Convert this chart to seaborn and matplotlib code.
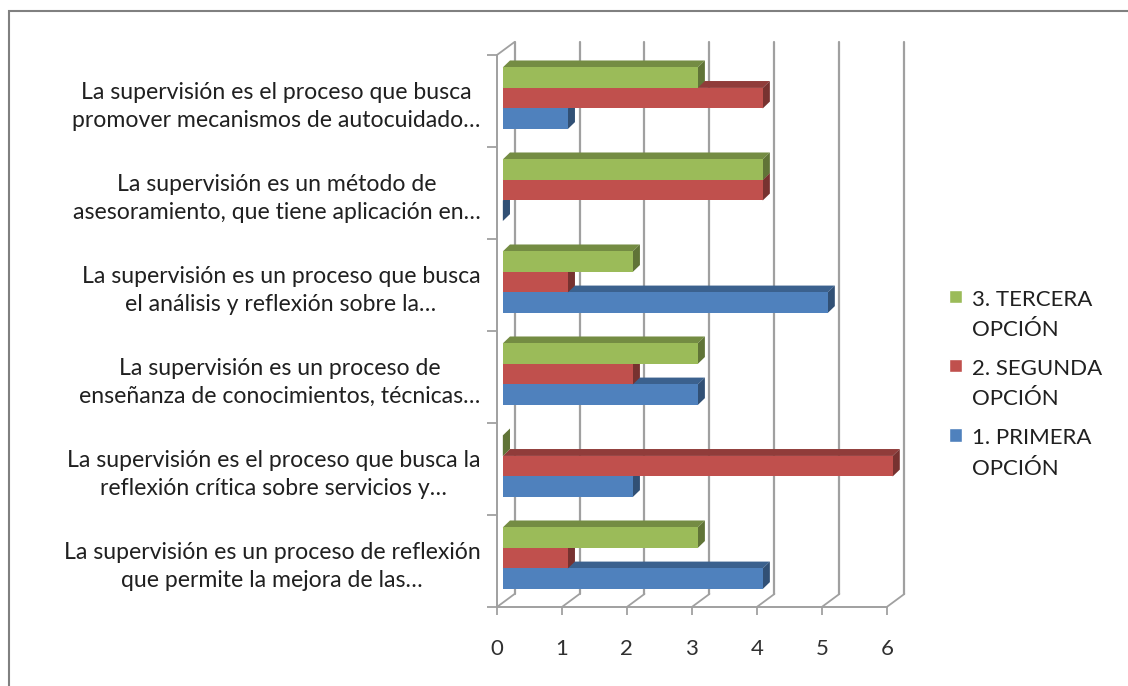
import numpy as np
import pandas as pd
import matplotlib
matplotlib.use('Agg')
import matplotlib.pyplot as plt
import seaborn as sns
from matplotlib.patches import Polygon, Rectangle
import matplotlib.colors as mcolors

preguntas = [
    "La supervisión es el proceso que busca\npromover mecanismos de autocuidado…",
    "La supervisión es un método de\nasesoramiento, que tiene aplicación en…",
    "La supervisión es un proceso que busca\nel análisis y reflexión sobre la…",
    "La supervisión es un proceso de\nenseñanza de conocimientos, técnicas…",
    "La supervisión es el proceso que busca la\nreflexión crítica sobre servicios y…",
    "La supervisión es un proceso de reflexión\nque permite la mejora de las…",
]
tercera = [3, 4, 2, 3, 0, 3]
segunda = [4, 4, 1, 2, 6, 1]
primera = [1, 0, 5, 3, 2, 4]
opciones = ["3. TERCERA\nOPCIÓN", "2. SEGUNDA\nOPCIÓN", "1. PRIMERA\nOPCIÓN"]
colores = ["#9BBB59", "#C0504D", "#4F81BD"]

df = pd.DataFrame({
    "pregunta": preguntas * 3,
    "opcion": [opciones[0]] * 6 + [opciones[1]] * 6 + [opciones[2]] * 6,
    "valor": tercera + segunda + primera,
})

sns.set_style("white")
plt.rcParams['font.family'] = ['Lato', 'DejaVu Sans']

# back-wall offset (depth) in data units
gx, gy = 0.27, 0.141

fig = plt.figure(figsize=(11.28, 6.86), dpi=100)
ax = fig.add_axes([0.4406, 0.1152, 0.364, 0.8236])

sns.barplot(data=df, x="valor", y="pregunta", hue="opcion", hue_order=opciones,
            order=preguntas, palette=colores, orient="h", width=0.67,
            saturation=1, ax=ax, legend=True)

# pseudo 3D faces
dx, dy = 0.11, 0.075
for p in list(ax.patches):
    if not isinstance(p, Rectangle) or p.get_height() == 0:
        continue
    x0, y0 = p.get_x() + 0.09, p.get_y() - 0.03
    w, h = p.get_width(), p.get_height()
    p.set_x(x0)
    p.set_y(y0)
    x1, y1 = x0 + w, y0 + h
    fc = p.get_facecolor()
    dark = tuple(np.array(mcolors.to_rgb(fc)) * 0.75)
    darker = tuple(np.array(mcolors.to_rgb(fc)) * 0.62)
    z = 3 + (10 - y0) / 10
    p.set_zorder(z)
    p.set_edgecolor('none')
    top = Polygon([(x0, y0), (x0 + dx, y0 - dy), (x1 + dx, y0 - dy), (x1, y0)],
                  closed=True, facecolor=dark, edgecolor='none', zorder=z - 0.001)
    side = Polygon([(x1, y0), (x1 + dx, y0 - dy), (x1 + dx, y1 - dy), (x1, y1)],
                   closed=True, facecolor=darker, edgecolor='none', zorder=z - 0.001)
    ax.add_patch(top)
    ax.add_patch(side)

ax.set_xlim(0, 6 + gx + 0.05)
ax.set_ylim(5.5, -0.5 - gy)
ax.set_xticks(range(0, 7))
ax.set_xlabel("")
ax.set_ylabel("")
ax.tick_params(axis='x', labelsize=16, colors='#303030', length=6, width=1.3,
               pad=17, bottom=True, color='#A0A0A0')
ax.tick_params(axis='y', labelsize=16.6, colors='#202020', length=0, pad=12)
ax.set_yticks(np.arange(-0.5, 6, 1), minor=True)
ax.tick_params(axis='y', which='minor', length=7, width=1.3, color='#A0A0A0', left=True)
for lab in ax.get_yticklabels():
    lab.set_multialignment('center')
    lab.set_linespacing(1.4)

ax.grid(False)
gc = '#A0A0A0'
for xv in range(0, 7):
    ax.plot([xv + gx, xv + gx], [5.5 - gy, -0.5 - gy], color=gc, lw=1.6,
            zorder=0, clip_on=False)
    ax.plot([xv, xv + gx], [5.5, 5.5 - gy], color=gc, lw=1.3, zorder=0, clip_on=False)
ax.plot([0, gx], [-0.5, -0.5 - gy], color=gc, lw=1.3, zorder=0, clip_on=False)
for s in ['top', 'right']:
    ax.spines[s].set_visible(False)
for s in ['left', 'bottom']:
    ax.spines[s].set_color(gc)
    ax.spines[s].set_linewidth(1.4)
ax.spines['bottom'].set_bounds(0, 6)
ax.spines['left'].set_bounds(-0.5, 5.5)

leg = ax.get_legend()
handles = leg.legend_handles
leg.remove()
fleg = fig.legend(handles, opciones, loc='center left', bbox_to_anchor=(0.824, 0.44),
                  frameon=False, fontsize=16, handlelength=0.55, handleheight=0.55,
                  handletextpad=0.45, labelspacing=0.85, labelcolor='#202020')
for t in fleg.get_texts():
    t.set_linespacing(1.65)
# put the colour squares next to the first line of each entry
try:
    for col in fleg._legend_handle_box.get_children():
        for item in col.get_children():
            item.align = 'top'
except AttributeError:
    pass

fig.patches.append(Rectangle((0.008, -0.05), 1.1, 1.034, transform=fig.transFigure,
                             fill=False, edgecolor='#808080', lw=1.5))

fig.savefig('out.png', dpi=100)
